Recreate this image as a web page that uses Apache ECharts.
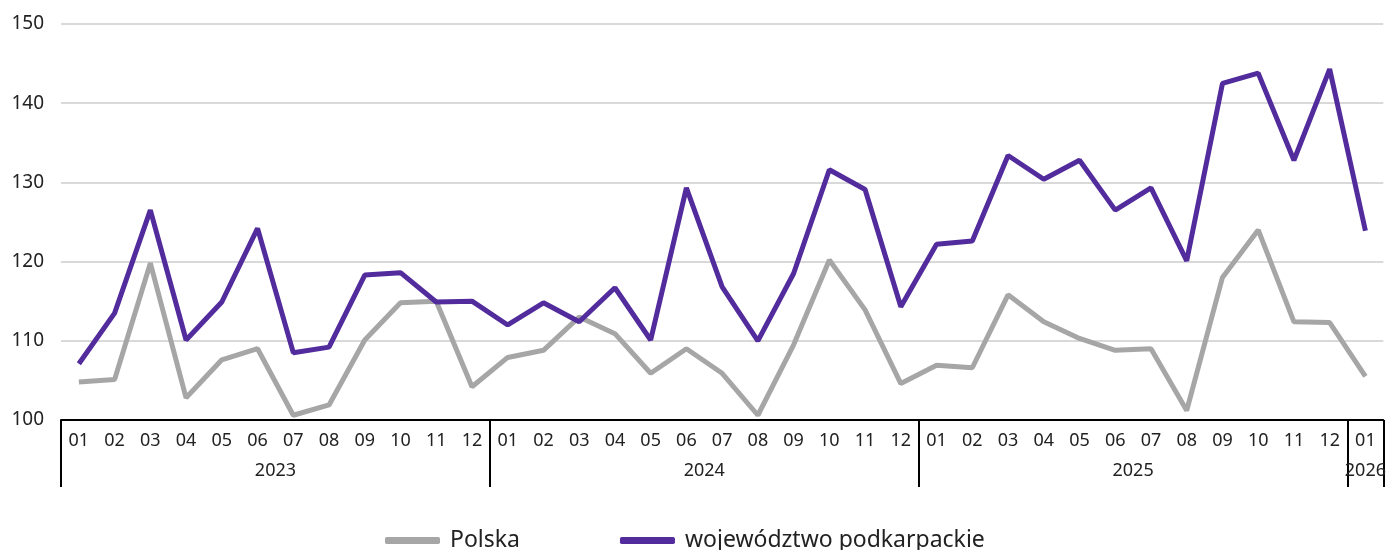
<!DOCTYPE html>
<html>
<head>
<meta charset="utf-8">
<script src="https://cdn.jsdelivr.net/npm/echarts@6/dist/echarts.min.js"></script>
<style>
  html, body { margin: 0; padding: 0; background: #fff; }
  #chart { width: 1389px; height: 550px; }
</style>
</head>
<body>
<div id="chart"></div>
<script>
const months = [
  '01', '02', '03', '04', '05', '06', '07', '08', '09', '10', '11', '12',
  '01', '02', '03', '04', '05', '06', '07', '08', '09', '10', '11', '12',
  '01', '02', '03', '04', '05', '06', '07', '08', '09', '10', '11', '12',
  '01',
];
const years = ['2023', '2024', '2025', '2026'];
const monthsPerYear = [12, 12, 12, 1];

const polska = [
  104.8, 105.1, 119.8, 102.8, 107.6, 109.0, 100.6, 101.9, 110.1, 114.8, 115.0, 104.2,
  107.9, 108.8, 113.0, 110.9, 105.9, 109.0, 105.9, 100.6, 109.5, 120.2, 113.9, 104.6,
  106.9, 106.6, 115.8, 112.4, 110.3, 108.8, 109.0, 101.2, 118.0, 124.0, 112.4, 112.3,
  105.5,
];
const podkarpackie = [
  107.1, 113.5, 126.5, 110.1, 114.9, 124.2, 108.5, 109.2, 118.3, 118.6, 114.9, 115.0,
  112.0, 114.8, 112.4, 116.7, 110.1, 129.3, 116.8, 110.0, 118.5, 131.6, 129.1, 114.3,
  122.2, 122.6, 133.4, 130.4, 132.8, 126.5, 129.3, 120.1, 142.5, 143.8, 132.8, 144.3,
  123.9,
];

// year boundaries and year label positions (in category units)
const bounds = [0];
const yearMid = [];
monthsPerYear.forEach((n, i) => {
  yearMid.push(bounds[i] + n / 2);
  bounds.push(bounds[i] + n);
});

const font = 'Noto Sans';
const chart = echarts.init(document.getElementById('chart'));
chart.setOption({
  animation: false,
  grid: { left: 61, right: 5, top: 24, bottom: 130, containLabel: false },
  legend: {
    left: 380,
    top: 524,
    itemGap: 100,
    itemWidth: 55,
    itemHeight: 7,
    icon: 'roundRect',
    textStyle: { fontFamily: font, fontSize: 23, color: '#222', padding: [0, 0, 0, 5] },
  },
  xAxis: [
    {
      type: 'category',
      position: 'bottom',
      data: months,
      boundaryGap: true,
      axisLine: { show: true, lineStyle: { color: '#000', width: 2 } },
      axisTick: { show: false },
      axisLabel: { interval: 0, margin: 12, fontFamily: font, fontSize: 18, color: '#222' },
    },
    {
      type: 'value',
      position: 'bottom',
      min: 0,
      max: bounds[bounds.length - 1],
      offset: 0,
      axisLine: { show: false },
      splitLine: { show: false },
      axisTick: {
        show: true,
        customValues: bounds,
        length: 67,
        lineStyle: { color: '#000', width: 2 },
      },
      axisLabel: {
        customValues: yearMid,
        margin: 42,
        fontFamily: font,
        fontSize: 18,
        color: '#222',
        formatter: (v) => years[yearMid.indexOf(v)] || '',
      },
    },
  ],
  yAxis: {
    type: 'value',
    min: 100,
    max: 150,
    interval: 10,
    axisLine: { show: false },
    axisTick: { show: false },
    axisLabel: { margin: 17, fontFamily: font, fontSize: 19, color: '#222' },
    splitLine: { lineStyle: { color: '#d9d9d9', width: 2 } },
  },
  series: [
    {
      name: 'Polska',
      type: 'line',
      xAxisIndex: 0,
      data: polska,
      symbol: 'none',
      itemStyle: { color: '#a6a6a6' },
      lineStyle: { color: '#a6a6a6', width: 5 },
    },
    {
      name: 'województwo podkarpackie',
      type: 'line',
      xAxisIndex: 0,
      data: podkarpackie,
      symbol: 'none',
      itemStyle: { color: '#522b9c' },
      lineStyle: { color: '#522b9c', width: 5 },
    },
  ],
});
</script>
</body>
</html>
